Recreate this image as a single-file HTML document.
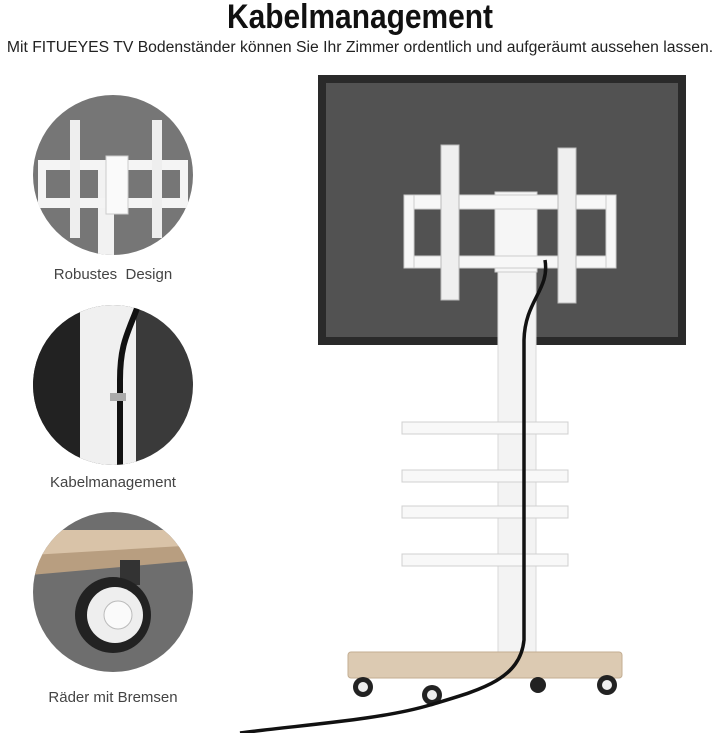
<!DOCTYPE html>
<html><head><meta charset="utf-8"><style>
body{margin:0;width:720px;height:733px;background:#fff;overflow:hidden;position:relative;font-family:"Liberation Sans",sans-serif}
.t{position:absolute;white-space:nowrap;transform-origin:center top;text-align:center}
</style></head><body>
<div class="t" style="left:0;width:720px;top:-2px;font-size:34px;font-weight:bold;color:#111;transform:scaleX(0.88)">Kabelmanagement</div>
<div class="t" style="left:0;width:720px;top:39px;font-size:15.5px;color:#222;transform:scaleX(1.015)">Mit FITUEYES TV Bodenständer können Sie Ihr Zimmer ordentlich und aufgeräumt aussehen lassen.</div>
<div class="t" style="left:13px;width:200px;top:266px;font-size:15px;color:#444">Robustes&nbsp; Design</div>
<div class="t" style="left:13px;width:200px;top:474px;font-size:15px;color:#444">Kabelmanagement</div>
<div class="t" style="left:13px;width:200px;top:689px;font-size:15px;color:#444">Räder mit Bremsen</div>
<svg width="720" height="733" style="position:absolute;left:0;top:0">
<defs>
<clipPath id="c1"><circle cx="113" cy="175" r="80"/></clipPath>
<clipPath id="c2"><circle cx="113" cy="385" r="80"/></clipPath>
<clipPath id="c3"><circle cx="113" cy="592" r="80"/></clipPath>
</defs>
<g clip-path="url(#c1)">
<rect x="30" y="90" width="170" height="170" fill="#767676"/>
<rect x="98" y="170" width="16" height="90" fill="#f2f2f2"/>
<rect x="38" y="160" width="150" height="10" fill="#f4f4f4"/>
<rect x="38" y="198" width="150" height="10" fill="#f4f4f4"/>
<rect x="38" y="160" width="8" height="48" fill="#f4f4f4"/>
<rect x="180" y="160" width="8" height="48" fill="#f4f4f4"/>
<rect x="70" y="120" width="10" height="118" fill="#eee"/>
<rect x="152" y="120" width="10" height="118" fill="#eee"/>
<rect x="106" y="156" width="22" height="58" fill="#fafafa" stroke="#ccc"/>
</g>
<g clip-path="url(#c2)">
<rect x="30" y="300" width="170" height="170" fill="#3a3a3a"/>
<rect x="30" y="300" width="50" height="170" fill="#222"/>
<rect x="80" y="300" width="56" height="170" fill="#f0f0f0"/>
<path d="M140 300 C130 330,120 340,120 380 L120 470" stroke="#111" stroke-width="6" fill="none"/>
<rect x="110" y="393" width="16" height="8" fill="#aaa"/>
</g>
<g clip-path="url(#c3)">
<rect x="30" y="510" width="170" height="170" fill="#6e6e6e"/>
<path d="M30 530 L200 530 L200 555 L30 570Z" fill="#d9c3a8"/>
<path d="M30 555 L200 545 L200 560 L30 575Z" fill="#b89e80"/>
<rect x="120" y="560" width="20" height="25" fill="#333"/>
<circle cx="113" cy="615" r="38" fill="#222"/>
<circle cx="115" cy="615" r="28" fill="#eee"/>
<circle cx="118" cy="615" r="14" fill="#fafafa" stroke="#bbb"/>
</g>
<rect x="318" y="75" width="368" height="270" fill="#2a2a2a"/>
<rect x="326" y="83" width="352" height="254" fill="#525252"/>
<rect x="498" y="235" width="38" height="420" fill="#f3f3f3" stroke="#d8d8d8"/>
<rect x="495" y="192" width="42" height="80" fill="#f6f6f6" stroke="#ccc"/>
<rect x="404" y="195" width="212" height="14" fill="#f7f7f7" stroke="#ccc"/>
<rect x="404" y="256" width="212" height="12" fill="#f7f7f7" stroke="#ccc"/>
<rect x="404" y="195" width="10" height="73" fill="#f7f7f7" stroke="#ccc"/>
<rect x="606" y="195" width="10" height="73" fill="#f7f7f7" stroke="#ccc"/>
<rect x="441" y="145" width="18" height="155" fill="#efefef" stroke="#bbb"/>
<rect x="558" y="148" width="18" height="155" fill="#efefef" stroke="#bbb"/>
<g fill="#f8f8f8" stroke="#d0d0d0">
<rect x="402" y="422" width="166" height="12"/>
<rect x="402" y="470" width="166" height="12"/>
<rect x="402" y="506" width="166" height="12"/>
<rect x="402" y="554" width="166" height="12"/>
</g>
<rect x="348" y="652" width="274" height="26" rx="3" fill="#dccab2" stroke="#c3ad92"/>
<g fill="#222"><circle cx="363" cy="687" r="10"/><circle cx="432" cy="695" r="10"/><circle cx="538" cy="685" r="8"/><circle cx="607" cy="685" r="10"/></g>
<g fill="#eee"><circle cx="363" cy="687" r="5"/><circle cx="432" cy="695" r="5"/><circle cx="607" cy="685" r="5"/></g>
<path d="M545 260 C550 290,525 300,524 340 L524 640 C520 680,480 690,430 705 C380 720,300 725,240 733" stroke="#111" stroke-width="3.5" fill="none"/>
</svg>
</body></html>
